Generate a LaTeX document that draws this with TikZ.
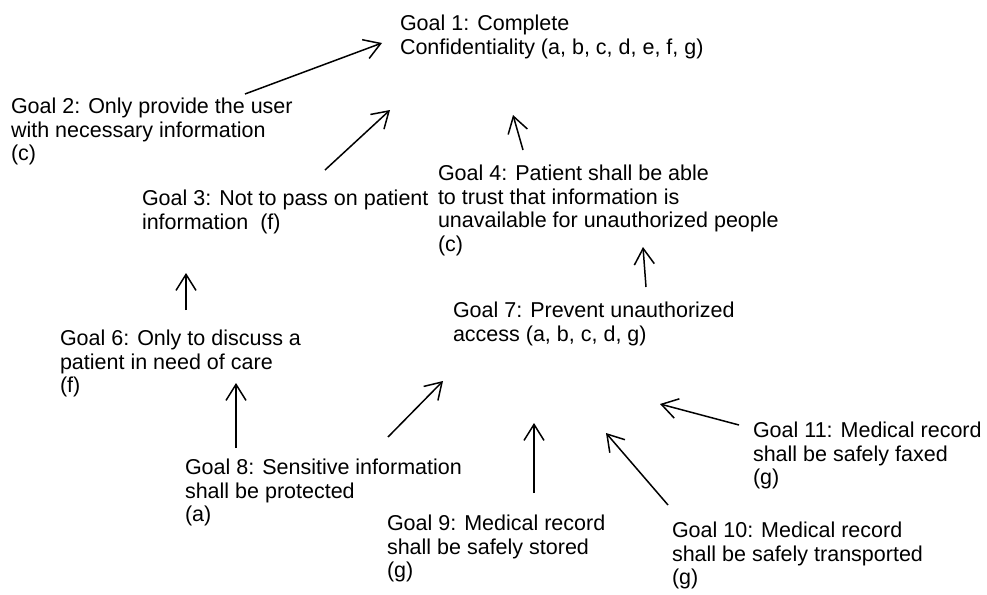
\documentclass[tikz,border=0pt]{standalone}
\usepackage{fontspec}
\setmainfont{Liberation Sans}
\usetikzlibrary{arrows.meta}

\tikzset{
  goal/.style={anchor=north west, inner sep=0pt, outer sep=0pt, align=left,
    font=\fontsize{21.5}{23.6}\selectfont, text=black},
  link/.style={draw=black, line width=1.5pt,
    -{Straight Barb[length=16pt, width=20pt, line join=miter]}}
}

\begin{document}
\begin{tikzpicture}[x=1pt, y=-1pt]
  \useasboundingbox[fill=white] (0,0) rectangle (987,594);

  % goal texts
  \node[goal] (g1)  at (400,15)  {Goal 1: Complete\\Confidentiality (a, b, c, d, e, f, g)};
  \node[goal] (g2)  at (11,98)   {Goal 2: Only provide the user\\with necessary information\\(c)};
  \node[goal] (g3)  at (142,190) {Goal 3: Not to pass on patient\\information\ \ (f)};
  \node[goal] (g4)  at (438,165) {Goal 4: Patient shall be able\\to trust that information is\\unavailable for unauthorized people\\(c)};
  \node[goal] (g7)  at (453,302) {Goal 7: Prevent unauthorized\\access (a, b, c, d, g)};
  \node[goal] (g6)  at (60,330)  {Goal 6: Only to discuss a\\patient in need of care\\(f)};
  \node[goal] (g8)  at (185,459) {Goal 8: Sensitive information\\shall be protected\\(a)};
  \node[goal] (g9)  at (387,515) {Goal 9: Medical record\\shall be safely stored\\(g)};
  \node[goal] (g10) at (672,522) {Goal 10: Medical record\\shall be safely transported\\(g)};
  \node[goal] (g11) at (753,422) {Goal 11: Medical record\\shall be safely faxed\\(g)};

  % arrow ends
  \coordinate (g2s)  at (245,94);   \coordinate (g1a) at (382,43);
  \coordinate (g3s)  at (325,170);  \coordinate (g1b) at (390,110);
  \coordinate (g4s)  at (523,150);  \coordinate (g1c) at (513,115);
  \coordinate (g7s)  at (646,287);  \coordinate (g4a) at (643,247);
  \coordinate (g6s)  at (186,310);  \coordinate (g3a) at (186,273);
  \coordinate (g8s)  at (236,448);  \coordinate (g6a) at (236,383);
  \coordinate (g8t)  at (388,437);  \coordinate (g7a) at (443,381);
  \coordinate (g9s)  at (534,493);  \coordinate (g7b) at (534,423);
  \coordinate (g10s) at (668,505);  \coordinate (g7c) at (606,433);
  \coordinate (g11s) at (739,425);  \coordinate (g7d) at (660,404);

  % refinement links
  \draw[link] (g2s)  -- (g1a);
  \draw[link] (g3s)  -- (g1b);
  \draw[link] (g4s)  -- (g1c);
  \draw[link] (g7s)  -- (g4a);
  \draw[link] (g6s)  -- (g3a);
  \draw[link] (g8s)  -- (g6a);
  \draw[link] (g8t)  -- (g7a);
  \draw[link] (g9s)  -- (g7b);
  \draw[link] (g10s) -- (g7c);
  \draw[link] (g11s) -- (g7d);
\end{tikzpicture}
\end{document}
